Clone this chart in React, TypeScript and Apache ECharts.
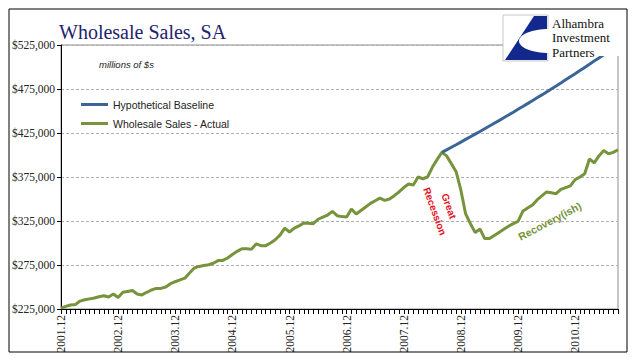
import React, { useEffect, useRef } from "react";
import * as echarts from "echarts";

const startYear = 2001;
const startMonth = 12;
const monthCount = 118;
const categories: string[] = [];
for (let k = 0; k < monthCount; k++) {
  const m = ((startMonth - 1 + k) % 12) + 1;
  const y = startYear + Math.floor((startMonth - 1 + k) / 12);
  categories.push(`${y}.${m < 10 ? "0" + m : m}`);
}

const actualSales = [
  226000, 228000, 229500, 230000, 234000, 235500, 236500, 237500, 239000, 240000,
  238600, 242000, 238000, 244000, 245000, 246000, 242000, 241000, 244000, 246600,
  248400, 248400, 250000, 253700, 256000, 258000, 260000, 266000, 271600, 273400,
  274500, 275300, 277000, 280000, 280200, 283000, 287000, 290500, 293500, 293500,
  293000, 299000, 297000, 297000, 300000, 303700, 309000, 317000, 312500, 317000,
  319500, 322700, 322500, 322000, 327000, 329500, 331800, 336000, 331000, 330000,
  329500, 338600, 333000, 337000, 341000, 345000, 348000, 351000, 348400, 350000,
  353800, 358000, 363000, 367000, 366000, 375000, 373000, 375000, 386000, 394700,
  403000, 399000, 390000, 381000, 360000, 333000, 322000, 312000, 316000, 305000,
  305000, 308500, 312000, 315500, 319000, 322000, 324600, 336000, 339800, 343000,
  349000, 353500, 358000, 357000, 356000, 361000, 363000, 365000, 372000, 375000,
  378700, 395500, 391000, 399000, 405000, 401500, 403000, 406000,
];

const baselineStartIndex = 80;
const baselineValues = [
  403000, 405900, 408800, 411700, 414700, 417700, 420700, 423700, 426700, 429800,
  432900, 436000, 439100, 442300, 445400, 448600, 451900, 455100, 458400, 461700,
  465000, 468300, 471700, 475100, 478500, 481900, 485400, 488900, 492400, 495900,
  499500, 503100, 506700, 510300, 514000, 517700, 521400, 525100,
];

const yMin = 225000;
const yMax = 525000;
const yStep = 50000;

const seriesNames = ["Hypothetical Baseline", "Wholesale Sales - Actual"];
const blue = "#3A6596";
const green = "#77933C";

export default function App() {
  const ref = useRef<HTMLDivElement>(null);
  useEffect(() => {
    document.body.style.margin = "0";
    const chart = echarts.init(ref.current!, null, { renderer: "svg" });
    const baselineData: (number | null)[] = categories.map(() => null);
    baselineValues.forEach((v, k) => {
      baselineData[baselineStartIndex + k] = v;
    });

    const option: any = {
      animation: false,
      backgroundColor: "#ffffff",
      title: {
        text: "Wholesale Sales, SA",
        left: 54,
        top: 17,
        textStyle: {
          fontFamily: "Liberation Serif",
          fontSize: 20,
          fontWeight: "normal",
          color: "#23236f",
        },
      },
      legend: {
        orient: "vertical",
        left: 76,
        top: 93,
        icon: "rect",
        itemWidth: 27,
        itemHeight: 3,
        itemGap: 6,
        data: seriesNames,
        textStyle: {
          fontFamily: "Liberation Sans",
          fontSize: 10.5,
          color: "#222",
          lineHeight: 13,
        },
      },
      grid: {
        left: 61,
        right: 23,
        top: 45,
        bottom: 49,
        show: true,
        borderColor: "#8c8c8c",
        borderWidth: 1,
        backgroundColor: "transparent",
      },
      xAxis: {
        type: "category",
        data: categories,
        boundaryGap: false,
        axisLine: { lineStyle: { color: "#000", width: 1 } },
        axisTick: { interval: 0, length: 5, lineStyle: { color: "#000" } },
        axisLabel: {
          interval: (index: number) => index % 12 === 0,
          rotate: 90,
          margin: 6,
          fontFamily: "Liberation Serif",
          fontSize: 11.5,
          color: "#222",
        },
        splitLine: { show: false },
      },
      yAxis: {
        type: "value",
        min: yMin,
        max: yMax,
        interval: yStep,
        axisLine: { show: true, lineStyle: { color: "#000", width: 1 } },
        axisTick: { show: true, length: 4, lineStyle: { color: "#000" } },
        axisLabel: {
          formatter: (v: number) => "$" + v.toLocaleString("en-US"),
          fontFamily: "Liberation Serif",
          fontSize: 11.5,
          color: "#222",
          margin: 6,
        },
        splitLine: {
          show: true,
          lineStyle: { color: "#b0b0b0", type: [3, 2], width: 1 },
        },
      },
      series: [
        {
          name: seriesNames[1],
          type: "line",
          data: actualSales,
          symbol: "none",
          color: green,
          lineStyle: { color: green, width: 3 },
          z: 3,
        },
        {
          name: seriesNames[0],
          type: "line",
          data: baselineData,
          symbol: "none",
          color: blue,
          lineStyle: { color: blue, width: 3 },
          z: 4,
        },
      ],
    };
    chart.setOption(option);

    const pRec = chart.convertToPixel({ gridIndex: 0 }, [80, 339000]) as number[];
    const pA = chart.convertToPixel({ gridIndex: 0 }, [102, 324500]) as number[];
    const pB = chart.convertToPixel({ gridIndex: 0 }, [103, 324500]) as number[];
    const recovX = pA[0] + (pB[0] - pA[0]) * 0.7;

    const LZ = 60;
    chart.setOption({
      graphic: [
        {
          type: "rect",
          shape: { x: 9, y: 9, width: 618, height: 343 },
          style: { fill: "none", stroke: "#000", lineWidth: 1 },
          z: 100,
          silent: true,
        },
        {
          type: "text",
          x: 99,
          y: 59,
          style: {
            text: "millions of $s",
            fontFamily: "Liberation Sans",
            fontStyle: "italic",
            fontSize: 9.5,
            fill: "#222",
          },
          z: 50,
        },
        {
          type: "rect",
          x: 503,
          y: 13,
          shape: { x: 0, y: 0, width: 119, height: 43 },
          style: { fill: "#ffffff" },
          z: LZ,
        },
        {
          type: "rect",
          x: 503,
          y: 14,
          shape: { x: 0, y: 1, width: 45, height: 46 },
          style: { fill: "#ffffff", stroke: "#c8c8c8", lineWidth: 1 },
          z: LZ + 1,
        },
        {
          type: "polygon",
          x: 503,
          y: 14,
          shape: { points: [[44, 2], [31, 2], [2, 46], [44, 46]] },
          style: { fill: "#13288c" },
          z: LZ + 2,
        },
        {
          type: "ellipse",
          x: 503,
          y: 14,
          shape: { cx: 46, cy: 27, rx: 30, ry: 12 },
          style: { fill: "#ffffff" },
          z: LZ + 3,
        },
        {
          type: "text",
          x: 552,
          y: 16,
          style: {
            text: "Alhambra\nInvestment\nPartners",
            fontFamily: "Liberation Serif",
            fontSize: 13,
            lineHeight: 14.5,
            fill: "#111",
          },
          z: LZ + 4,
        },
        {
          type: "text",
          x: pRec[0],
          y: pRec[1],
          rotation: (-70 * Math.PI) / 180,
          style: {
            text: "Great\nRecession",
            align: "center",
            verticalAlign: "middle",
            fontFamily: "Liberation Sans",
            fontWeight: "bold",
            fontSize: 10,
            lineHeight: 15,
            fill: "#e8101c",
          },
          z: 50,
        },
        {
          type: "text",
          x: recovX,
          y: pA[1],
          rotation: (27.7 * Math.PI) / 180,
          style: {
            text: "Recovery(ish)",
            align: "center",
            verticalAlign: "middle",
            fontFamily: "Liberation Sans",
            fontWeight: "bold",
            fontSize: 10.5,
            fill: green,
          },
          z: 50,
        },
      ],
    });

    return () => chart.dispose();
  }, []);
  return (
    <div
      ref={ref}
      style={{ position: "fixed", left: 0, top: 0, width: 641, height: 358 }}
    />
  );
}
